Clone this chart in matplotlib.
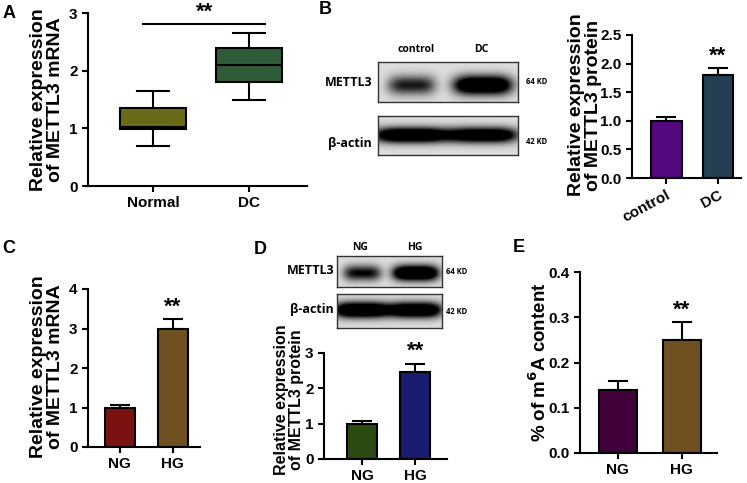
import numpy as np
import matplotlib
matplotlib.use("Agg")
import matplotlib.pyplot as plt

plt.rcParams['font.family'] = ['Liberation Sans', 'DejaVu Sans']
plt.rcParams['font.weight'] = 'bold'
plt.rcParams['axes.linewidth'] = 1.5

W, H = 747, 483

# panel A: boxplot stats (whislo, q1, med, q3, whishi)
a_groups = ['Normal', 'DC']
a_stats = [(0.70, 0.98, 1.03, 1.35, 1.65), (1.50, 1.80, 2.10, 2.40, 2.65)]
a_colors = ['#6b6a1a', '#2e5b38']

# panel B: western blot quantification
b_groups = ['control', 'DC']
b_vals = [1.0, 1.8]
b_errs = [0.07, 0.12]
b_colors = ['#54087e', '#253f52']
b_band_mettl3 = [0.9, 1.6]
b_band_actin = [1.6, 1.5]

# panel C: qPCR
c_groups = ['NG', 'HG']
c_vals = [1.0, 3.0]
c_errs = [0.07, 0.23]
c_colors = ['#7a1212', '#6f5121']

# panel D: western blot quantification
d_groups = ['NG', 'HG']
d_vals = [1.0, 2.45]
d_errs = [0.07, 0.25]
d_colors = ['#2a4a12', '#1a1a6e']
d_band_mettl3 = [1.0, 1.7]
d_band_actin = [1.7, 1.6]

# panel E: m6A content
e_groups = ['NG', 'HG']
e_vals = [0.14, 0.25]
e_errs = [0.02, 0.04]
e_colors = ['#40003a', '#6f5121']

fig = plt.figure(figsize=(W / 100, H / 100), dpi=100)


def px_axes(l, t, r, b):
    return fig.add_axes([l / W, 1 - b / H, (r - l) / W, (b - t) / H])


def ftext(x, y, s, **kw):
    fig.text(x / W, 1 - y / H, s, **kw)


def style(ax):
    for sp in ['top', 'right']:
        ax.spines[sp].set_visible(False)
    ax.tick_params(width=1.5, length=4, labelsize=11)
    for lab in ax.get_yticklabels():
        lab.set_fontweight('bold')


def bars(ax, groups, vals, errs, colors, width, xlim, ylim, yticks, fmt):
    x = np.arange(len(groups))
    ax.bar(x, vals, width=width, color=colors, edgecolor='black', linewidth=1.5, zorder=2)
    ax.errorbar(x, vals, yerr=[np.zeros(len(errs)), errs], fmt='none', ecolor='black',
                elinewidth=1.5, capsize=7, capthick=1.5, zorder=1)
    ax.set_xlim(*xlim)
    ax.set_ylim(*ylim)
    ax.set_yticks(yticks)
    ax.set_yticklabels([fmt.format(t) for t in yticks], fontweight='bold')
    ax.set_xticks(x)
    ax.set_xticklabels(groups, fontsize=12, fontweight='bold')
    style(ax)
    ax.annotate('**', xy=(x[1], vals[1] + errs[1]), xytext=(0, 1), textcoords='offset points',
                ha='center', va='bottom', fontsize=16, fontweight='bold')


def blot(l, t, r, b, strengths, yc, yh, halfw):
    ax = px_axes(l, t, r, b)
    xs = np.linspace(0, 1, 240)
    ys = np.linspace(0, 1, 80)
    X, Y = np.meshgrid(xs, ys)
    dark = np.zeros_like(X)
    centers = [0.24, 0.75]
    for c, s, hw in zip(centers, strengths, halfw):
        dark += s * np.exp(-((X - c) / hw) ** 4) * np.exp(-((Y - yc) / yh) ** 2)
    img = 0.87 - 0.87 * np.clip(dark, 0, 1)
    ax.imshow(img, cmap='gray', vmin=0, vmax=1, aspect='auto', extent=(0, 1, 1, 0))
    ax.set_xticks([])
    ax.set_yticks([])
    for sp in ax.spines.values():
        sp.set_linewidth(1.0)
        sp.set_color('#333333')
    return ax


blot_font = dict(family=['Open Sans', 'DejaVu Sans'], fontweight='bold')

# ---- A ----
axA = px_axes(88, 13, 307, 186)
bp = axA.bxp([dict(whislo=s[0], q1=s[1], med=s[2], q3=s[3], whishi=s[4], fliers=[]) for s in a_stats],
             positions=[0, 1], widths=0.68, patch_artist=True, showfliers=False,
             boxprops=dict(linewidth=1.5, edgecolor='black'),
             medianprops=dict(color='black', linewidth=1.5),
             whiskerprops=dict(linewidth=1.5), capprops=dict(linewidth=1.5))
for patch, c in zip(bp['boxes'], a_colors):
    patch.set_facecolor(c)
axA.set_xlim(-0.677, 1.604)
axA.set_ylim(0, 3)
axA.set_yticks([0, 1, 2, 3])
axA.set_xticks([0, 1])
axA.set_xticklabels(a_groups, fontsize=12, fontweight='bold')
style(axA)
axA.plot([-0.10, 1.17], [2.81, 2.81], color='black', lw=1.5, clip_on=False)
axA.text(0.54, 2.84, '**', ha='center', va='bottom', fontsize=16, fontweight='bold')
ftext(47, 100, 'Relative expression\nof METTL3 mRNA', rotation=90, ha='center', va='center',
      fontsize=14, fontweight='bold', linespacing=1.0)
ftext(9, 13, 'A', fontsize=13, fontweight='bold', ha='center', va='center')

# ---- B ----
ftext(325, 10, 'B', fontsize=13, fontweight='bold', ha='center', va='center')
blot(378, 62, 518, 102, b_band_mettl3, 0.58, 0.24, [0.17, 0.21])
blot(378, 116, 518, 155, b_band_actin, 0.49, 0.2, [0.27, 0.25])
ftext(416, 50, 'control', fontsize=7.5, ha='center', va='center', **blot_font)
ftext(481, 50, 'DC', fontsize=7.5, ha='center', va='center', **blot_font)
ftext(372, 82, 'METTL3', fontsize=9, ha='right', va='center', **blot_font)
ftext(372, 143, 'β-actin', fontsize=9, ha='right', va='center', **blot_font)
ftext(526, 82, '64 KD', fontsize=5.5, ha='left', va='center', **blot_font)
ftext(526, 141, '42 KD', fontsize=5.5, ha='left', va='center', **blot_font)

axB = px_axes(632, 35, 741, 178)
bars(axB, b_groups, b_vals, b_errs, b_colors, 0.59, (-0.667, 1.45), (0, 2.5),
     [0, 0.5, 1.0, 1.5, 2.0, 2.5], '{:.1f}')
for lab in axB.get_xticklabels():
    lab.set_rotation(28)
    lab.set_ha('right')
    lab.set_rotation_mode('anchor')
ftext(585, 105, 'Relative expression\nof METTL3 protein', rotation=90, ha='center', va='center',
      fontsize=14, fontweight='bold', linespacing=1.0)

# ---- C ----
ftext(9, 248, 'C', fontsize=13, fontweight='bold', ha='center', va='center')
axC = px_axes(88, 289, 200, 447)
bars(axC, c_groups, c_vals, c_errs, c_colors, 0.57, (-0.6, 1.51), (0, 4), [0, 1, 2, 3, 4], '{:d}')
ftext(47, 367, 'Relative expression\nof METTL3 mRNA', rotation=90, ha='center', va='center',
      fontsize=14, fontweight='bold', linespacing=1.0)

# ---- D ----
ftext(260, 250, 'D', fontsize=13, fontweight='bold', ha='center', va='center')
blot(337, 256, 442, 287, d_band_mettl3, 0.55, 0.25, [0.18, 0.22])
blot(337, 294, 442, 328, d_band_actin, 0.47, 0.23, [0.27, 0.25])
ftext(360, 247, 'NG', fontsize=7.5, ha='center', va='center', **blot_font)
ftext(415, 247, 'HG', fontsize=7.5, ha='center', va='center', **blot_font)
ftext(334, 271, 'METTL3', fontsize=9, ha='right', va='center', **blot_font)
ftext(334, 310, 'β-actin', fontsize=9, ha='right', va='center', **blot_font)
ftext(446, 271, '64 KD', fontsize=5.5, ha='left', va='center', **blot_font)
ftext(446, 311, '42 KD', fontsize=5.5, ha='left', va='center', **blot_font)

axD = px_axes(324, 353, 447, 459)
bars(axD, d_groups, d_vals, d_errs, d_colors, 0.57, (-0.72, 1.6), (0, 3), [0, 1, 2, 3], '{:d}')
ftext(289, 400, 'Relative expression\nof METTL3 protein', rotation=90, ha='center', va='center',
      fontsize=11.5, fontweight='bold', linespacing=1.0)

# ---- E ----
ftext(519, 247, 'E', fontsize=13, fontweight='bold', ha='center', va='center')
axE = px_axes(580, 272, 717, 453)
bars(axE, e_groups, e_vals, e_errs, e_colors, 0.59, (-0.59, 1.55), (0, 0.4),
     [0, 0.1, 0.2, 0.3, 0.4], '{:.1f}')
ftext(539, 362, '% of m$^{\\mathbf{6}}$A content', rotation=90, ha='center', va='center',
      fontsize=13.5, fontweight='bold')

fig.savefig('out.png', dpi=100)
